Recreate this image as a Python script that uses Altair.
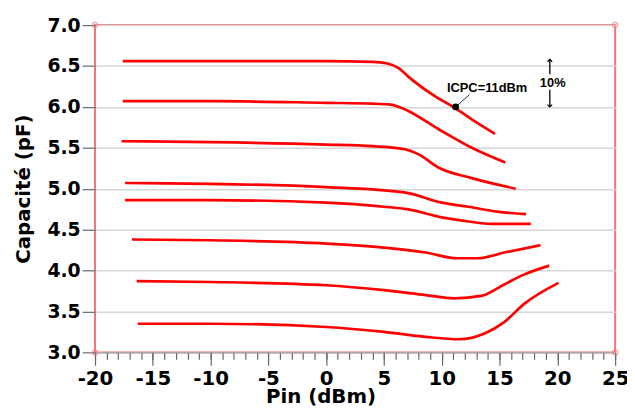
import altair as alt
import pandas as pd

# ---- data ----
curve_x = [
    [-17.6, -10, 0, 4, 5.3, 6.3, 7.1, 9.2, 11.1, 13, 14.6],
    [-17.6, -10, 0, 4, 5.4, 6.3, 7.1, 9.7, 12.6, 15.5],
    [-17.7, -10, 0, 4, 6.9, 8.0, 9.7, 12.6, 16.4],
    [-17.4, -10, 0, 5, 7, 10, 12.3, 14.8, 17.3],
    [-17.4, -10, 0, 5, 7, 10, 12.3, 14.3, 17.7],
    [-16.8, -10, 0, 5, 8.6, 11.4, 13.1, 15.4, 18.55],
    [-16.4, -10, 0, 5, 8.6, 11.1, 13.4, 15.4, 17.1, 19.3],
    [-16.3, -10, 0, 5, 8.6, 11.5, 13.7, 15.4, 17.1, 20.1],
]
curve_y = [
    [6.56, 6.56, 6.56, 6.55, 6.53, 6.47, 6.37, 6.15, 5.99, 5.81, 5.67],
    [6.07, 6.07, 6.05, 6.04, 6.03, 6.00, 5.95, 5.73, 5.50, 5.32],
    [5.58, 5.57, 5.54, 5.52, 5.48, 5.42, 5.26, 5.13, 5.00],
    [5.07, 5.06, 5.02, 4.98, 4.95, 4.83, 4.78, 4.72, 4.69],
    [4.86, 4.86, 4.83, 4.78, 4.75, 4.65, 4.60, 4.57, 4.57],
    [4.38, 4.37, 4.33, 4.28, 4.22, 4.15, 4.15, 4.22, 4.31],
    [3.87, 3.86, 3.82, 3.76, 3.70, 3.66, 3.69, 3.83, 3.95, 4.06],
    [3.35, 3.35, 3.31, 3.25, 3.19, 3.16, 3.23, 3.37, 3.59, 3.85],
]
x_major = list(range(-20, 26, 5))
x_minor = list(range(-20, 26, 1))
y_ticks = [3.0, 3.5, 4.0, 4.5, 5.0, 5.5, 6.0, 6.5, 7.0]
x_domain = [-20, 25]
y_domain = [3.0, 7.0]

icpc_label = "ICPC=11dBm"
icpc_point = (11.2, 6.0)
icpc_leader = (12.4, 6.15)
icpc_text_pos = (10.45, 6.23)
pct_label = "10%"
pct_text_pos = (19.6, 6.29)
arrow_x = 19.35
arrow_up = (6.40, 6.58)
arrow_down = (6.21, 6.00)

rows = []
for i, (xs, ys) in enumerate(zip(curve_x, curve_y)):
    for xv, yv in zip(xs, ys):
        rows.append({"curve": i, "pin": xv, "cap": yv})
df = pd.DataFrame(rows)

xs_ = alt.Scale(domain=x_domain, nice=False, zero=False)
ys_ = alt.Scale(domain=y_domain, nice=False, zero=False)
FONT = "DejaVu Sans"

x_axis = alt.Axis(
    values=x_major, title="Pin (dBm)", orient="bottom",
    labelExpr="datum.value === 25 ? '25\u00a0\u00a0' : '' + datum.value",
    labelOverlap=False,
    tickSize=13,
    gridColor="#d6d6d6", gridWidth=1.5, tickColor="#666666", tickWidth=1.2,
    domain=True, domainColor="#999999", domainWidth=1,
    labelFont=FONT, labelFontWeight="bold", labelFontSize=20, labelColor="black",
    labelPadding=3, labelFlush=False,
    titleFont=FONT, titleFontWeight="bold", titleFontSize=20, titleColor="black",
    titleX=228, titleY=51, titleBaseline="alphabetic", titleAnchor="middle",
)
x_minor_axis = alt.Axis(
    values=x_minor, orient="bottom", title=None, labels=False, grid=False, domain=False,
    tickSize=7, tickColor="#666666", tickWidth=1.2,
)
y_axis = alt.Axis(
    values=y_ticks, format=".1f", title="Capacité (pF)", orient="left",
    labelOverlap=False,
    tickSize=13, tickColor="#666666", tickWidth=1.2,
    gridColor="#d6d6d6", gridWidth=1.5, domain=False,
    labelFont=FONT, labelFontWeight="bold", labelFontSize=19, labelColor="black",
    labelPadding=2, labelFlush=False,
    titleFont=FONT, titleFontWeight="bold", titleFontSize=20, titleColor="black",
    titleX=-72, titleBaseline="middle",
)


def X(field="pin"):
    return alt.X(f"{field}:Q", scale=xs_, axis=None)


def Y(field="cap"):
    return alt.Y(f"{field}:Q", scale=ys_, axis=y_axis)


minor = alt.Chart(pd.DataFrame({"pin": x_domain, "cap": y_domain})).mark_point(opacity=0).encode(
    x=alt.X("pin:Q", scale=xs_, axis=x_minor_axis), y=Y())

lines = alt.Chart(df).mark_line(color="#ff0000", strokeWidth=2.7, interpolate="monotone").encode(
    x=alt.X("pin:Q", scale=xs_, axis=x_axis), y=Y(), detail="curve:N")

corners = pd.DataFrame({"pin": [x_domain[0], x_domain[1], x_domain[0], x_domain[1]],
                        "cap": [y_domain[1], y_domain[1], y_domain[0], y_domain[0]]})
corner_marks = alt.Chart(corners).mark_point(shape="circle", size=28, filled=False,
                                             color="#f07878", strokeWidth=1.2).encode(x=X(), y=Y())

leader = alt.Chart(pd.DataFrame({"pin": [icpc_point[0]], "cap": [icpc_point[1]],
                                 "pin2": [icpc_leader[0]], "cap2": [icpc_leader[1]]})).mark_rule(
    color="#333333", strokeWidth=1).encode(x=X(), y=Y(), x2="pin2:Q", y2="cap2:Q")

dot = alt.Chart(pd.DataFrame({"pin": [icpc_point[0]], "cap": [icpc_point[1]]})).mark_point(
    shape="circle", size=45, filled=True, color="black", opacity=1).encode(x=X(), y=Y())

texts = pd.DataFrame({"pin": [icpc_text_pos[0], pct_text_pos[0]],
                      "cap": [icpc_text_pos[1], pct_text_pos[1]],
                      "label": [icpc_label, pct_label]})
text_icpc = alt.Chart(texts.iloc[[0]]).mark_text(
    align="left", baseline="middle", font="Liberation Sans", fontWeight="bold",
    fontSize=13, color="black").encode(x=X(), y=Y(), text="label:N")
text_pct = alt.Chart(texts.iloc[[1]]).mark_text(
    align="center", baseline="middle", font="Liberation Sans", fontWeight="bold",
    fontSize=13, color="black").encode(x=X(), y=Y(), text="label:N")

arrows = pd.DataFrame({"pin": [arrow_x, arrow_x], "cap": [arrow_up[0], arrow_down[0]],
                       "cap2": [arrow_up[1], arrow_down[1]]})
arrow_shafts = alt.Chart(arrows).mark_rule(color="black", strokeWidth=1.3).encode(
    x=X(), y=Y(), y2="cap2:Q")
head_up = alt.Chart(pd.DataFrame({"pin": [arrow_x], "cap": [arrow_up[1]]})).mark_point(
    shape="M-1,1L0,0L1,1", size=22, filled=False, color="black", strokeWidth=1.3, opacity=1).encode(
    x=X(), y=Y())
head_down = alt.Chart(pd.DataFrame({"pin": [arrow_x], "cap": [arrow_down[1]]})).mark_point(
    shape="M-1,-1L0,0L1,-1", size=22, filled=False, color="black", strokeWidth=1.3, opacity=1).encode(
    x=X(), y=Y())

chart = alt.layer(minor, lines, corner_marks, leader, dot, text_icpc, text_pct,
                  arrow_shafts, head_up, head_down).resolve_axis(x="independent").properties(
    width=526, height=331,
    autosize=alt.AutoSizeParams(type="none"),
    padding={"left": 88, "top": 15, "right": 12, "bottom": 56},
    background="white",
).configure_view(stroke="#f07878", strokeWidth=2)

chart.save("out.html", embed_options={"renderer": "svg", "actions": False})
